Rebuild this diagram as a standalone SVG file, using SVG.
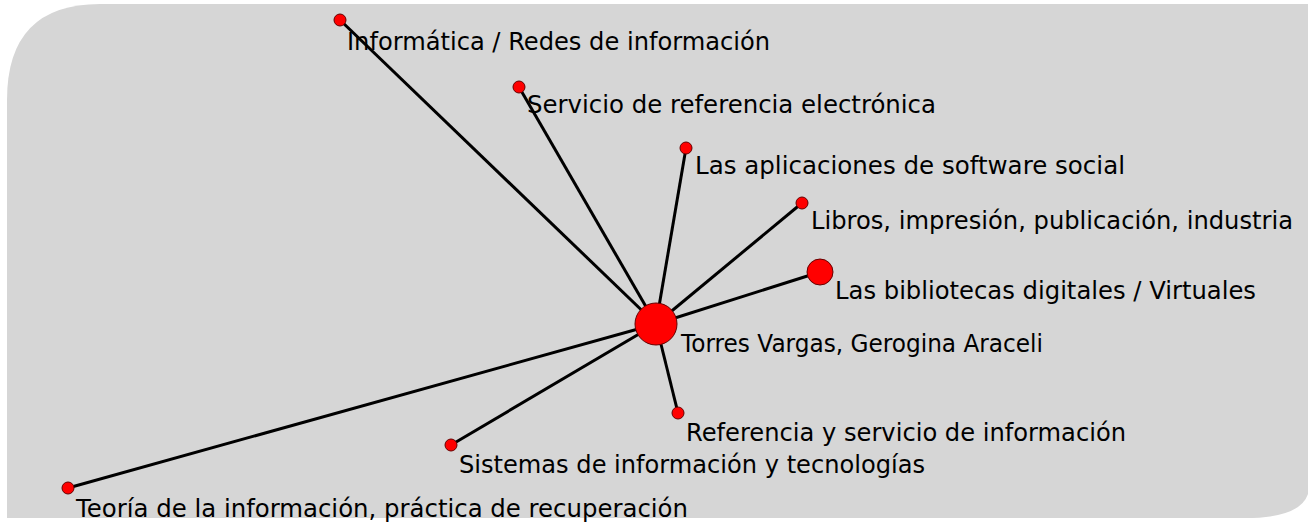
<svg xmlns="http://www.w3.org/2000/svg" width="1308" height="526" viewBox="0 0 1308 526">
<style>
.lbl{font-family:"DejaVu Sans","Liberation Sans",Arial,sans-serif;font-size:24px;fill:#000}
.edge{stroke:#000;stroke-width:3;fill:none}
.node{fill:#ff0000;stroke:#600;stroke-width:1}
</style>
<rect width="1308" height="526" fill="#fff"/>
<path d="M7 100 Q7 4 100 4 L1308 4 L1308 494 Q1300 518 1245 518 L7 518 Z" fill="#d6d6d6"/>
<g id="connectors">
<line class="edge" x1="656" y1="324" x2="340" y2="20"/>
<line class="edge" x1="656" y1="324" x2="519" y2="87"/>
<line class="edge" x1="656" y1="324" x2="686" y2="148"/>
<line class="edge" x1="656" y1="324" x2="802" y2="203"/>
<line class="edge" x1="656" y1="324" x2="820" y2="272"/>
<line class="edge" x1="656" y1="324" x2="678" y2="413"/>
<line class="edge" x1="656" y1="324" x2="451" y2="445"/>
<line class="edge" x1="656" y1="324" x2="68" y2="488"/>
</g>
<g id="n-informatica"><circle class="node" cx="340" cy="20" r="6"/><text class="lbl" x="347" y="50" textLength="423" lengthAdjust="spacingAndGlyphs">Informática / Redes de información</text></g>
<g id="n-servicio"><circle class="node" cx="519" cy="87" r="6"/><text class="lbl" x="527" y="113" textLength="409" lengthAdjust="spacingAndGlyphs">Servicio de referencia electrónica</text></g>
<g id="n-aplicaciones"><circle class="node" cx="686" cy="148" r="6"/><text class="lbl" x="695" y="174" textLength="430" lengthAdjust="spacingAndGlyphs">Las aplicaciones de software social</text></g>
<g id="n-libros"><circle class="node" cx="802" cy="203" r="6"/><text class="lbl" x="811" y="229" textLength="482" lengthAdjust="spacingAndGlyphs">Libros, impresión, publicación, industria</text></g>
<g id="n-bibliotecas"><circle class="node" cx="820" cy="272" r="13"/><text class="lbl" x="835" y="299" textLength="421" lengthAdjust="spacingAndGlyphs">Las bibliotecas digitales / Virtuales</text></g>
<g id="n-torres"><circle class="node" cx="656" cy="324" r="21"/><text class="lbl" x="681" y="352" textLength="362" lengthAdjust="spacingAndGlyphs">Torres Vargas, Gerogina Araceli</text></g>
<g id="n-referencia"><circle class="node" cx="678" cy="413" r="6"/><text class="lbl" x="686" y="441" textLength="440" lengthAdjust="spacingAndGlyphs">Referencia y servicio de información</text></g>
<g id="n-sistemas"><circle class="node" cx="451" cy="445" r="6"/><text class="lbl" x="459" y="473" textLength="466" lengthAdjust="spacingAndGlyphs">Sistemas de información y tecnologías</text></g>
<g id="n-teoria"><circle class="node" cx="68" cy="488" r="6"/><text class="lbl" x="76" y="517" textLength="612" lengthAdjust="spacingAndGlyphs">Teoría de la información, práctica de recuperación</text></g>
</svg>
